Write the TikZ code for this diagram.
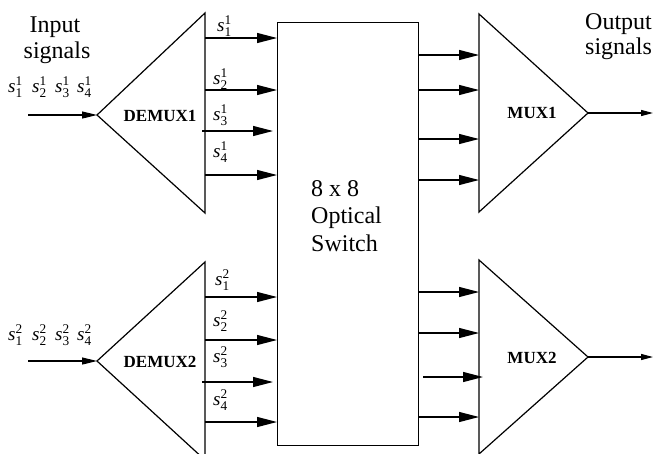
\documentclass[tikz,border=0pt]{standalone}
\usepackage{fontspec}
\usepackage{amsmath}
\setmainfont{Liberation Serif}
\usetikzlibrary{arrows.meta}
\newcommand\sig[2]{\textit{s}$^{\text{#2}}_{\text{#1}}$}
\tikzset{
  ln/.style={line width=1.2pt},
  bigarr/.style={ln,-{Triangle[length=20pt,width=10pt]}},
  inarr/.style={ln,-{Triangle[length=15pt,width=7pt]}},
  outarr/.style={ln,-{Triangle[length=12pt,width=6pt]}},
  lbl/.style={font=\fontsize{24}{26}\selectfont, inner sep=0pt},
  sl/.style={font=\fontsize{19}{22}\selectfont, inner sep=0pt, anchor=base west},
  bl/.style={font=\fontsize{17}{20}\selectfont\bfseries, inner sep=0pt},
}
\begin{document}
\begin{tikzpicture}[x=1pt,y=-1pt]
\useasboundingbox (0,0) rectangle (653,453);
\clip (0,0) rectangle (653,453);
% coordinates
\coordinate (d1a) at (97,115); \coordinate (d1t) at (205,13); \coordinate (d1b) at (205,213);
\coordinate (d2a) at (97,361); \coordinate (d2t) at (205,262); \coordinate (d2b) at (205,460);
\coordinate (m1a) at (588,113); \coordinate (m1t) at (479,14); \coordinate (m1b) at (479,212);
\coordinate (m2a) at (588,357); \coordinate (m2t) at (479,260); \coordinate (m2b) at (479,454);
\coordinate (in1) at (28,115); \coordinate (in2) at (28,361);
\coordinate (out1) at (653,113); \coordinate (out2) at (653,357);
% triangles
\draw[ln,line join=miter] (d1t) -- (d1a) -- (d1b) -- cycle;
\draw[ln,line join=miter] (d2t) -- (d2a) -- (d2b) -- cycle;
\draw[ln,line join=miter] (m1t) -- (m1a) -- (m1b) -- cycle;
\draw[ln,line join=miter] (m2t) -- (m2a) -- (m2b) -- cycle;
% switch box
\node[draw, ln, minimum width=141pt, minimum height=423pt, inner sep=0pt, anchor=north west] (sw) at (277,22) {};
\node[lbl, anchor=base west, align=left] at (311,196) {8 x 8};
\node[lbl, anchor=base west] at (311,223) {Optical};
\node[lbl, anchor=base west] at (311,251) {Switch};
% labels
\node[lbl, anchor=base] at (55,32) {Input};
\node[lbl, anchor=base] at (57,58) {signals};
\node[lbl, anchor=base west] at (585,29) {Output};
\node[lbl, anchor=base west] at (585,54) {signals};
\node[bl] at (160,116) {DEMUX1};
\node[bl] at (160,362) {DEMUX2};
\node[bl] at (532,113) {MUX1};
\node[bl] at (532,358) {MUX2};
% input arrows
\draw[inarr] (in1) -- (d1a);
\draw[inarr] (in2) -- (d2a);
\draw[outarr] (m1a) -- (out1);
\draw[outarr] (m2a) -- (out2);
% input labels
\node[sl] at (8,92) {\sig{1}{1}};
\node[sl] at (32,92) {\sig{2}{1}};
\node[sl] at (55,92) {\sig{3}{1}};
\node[sl] at (77,92) {\sig{4}{1}};
\node[sl] at (8,340) {\sig{1}{2}};
\node[sl] at (32,340) {\sig{2}{2}};
\node[sl] at (55,340) {\sig{3}{2}};
\node[sl] at (77,340) {\sig{4}{2}};
% demux1 outputs
\draw[bigarr] (205,38) -- (sw.west |- 0,38);
\draw[bigarr] (205,90) -- (sw.west |- 0,90);
\draw[bigarr] (202,131) -- (273,131);
\draw[bigarr] (205,175) -- (sw.west |- 0,175);
\node[sl] at (217,31) {\sig{1}{1}};
\node[sl] at (213,84) {\sig{2}{1}};
\node[sl] at (213,120) {\sig{3}{1}};
\node[sl] at (213,157) {\sig{4}{1}};
% demux2 outputs
\draw[bigarr] (205,297) -- (sw.west |- 0,297);
\draw[bigarr] (205,340) -- (sw.west |- 0,340);
\draw[bigarr] (202,382) -- (273,382);
\draw[bigarr] (205,422) -- (sw.west |- 0,422);
\node[sl] at (215,285) {\sig{1}{2}};
\node[sl] at (213,326) {\sig{2}{2}};
\node[sl] at (213,362) {\sig{3}{2}};
\node[sl] at (213,405) {\sig{4}{2}};
% switch to mux1
\draw[bigarr] (sw.east |- 0,55) -- (479,55);
\draw[bigarr] (sw.east |- 0,90) -- (479,90);
\draw[bigarr] (sw.east |- 0,139) -- (479,139);
\draw[bigarr] (sw.east |- 0,180) -- (479,180);
% switch to mux2
\draw[bigarr] (sw.east |- 0,292) -- (479,292);
\draw[bigarr] (sw.east |- 0,333) -- (479,333);
\draw[bigarr] (423,377) -- (483,377);
\draw[bigarr] (sw.east |- 0,417) -- (479,417);
\end{tikzpicture}
\end{document}
